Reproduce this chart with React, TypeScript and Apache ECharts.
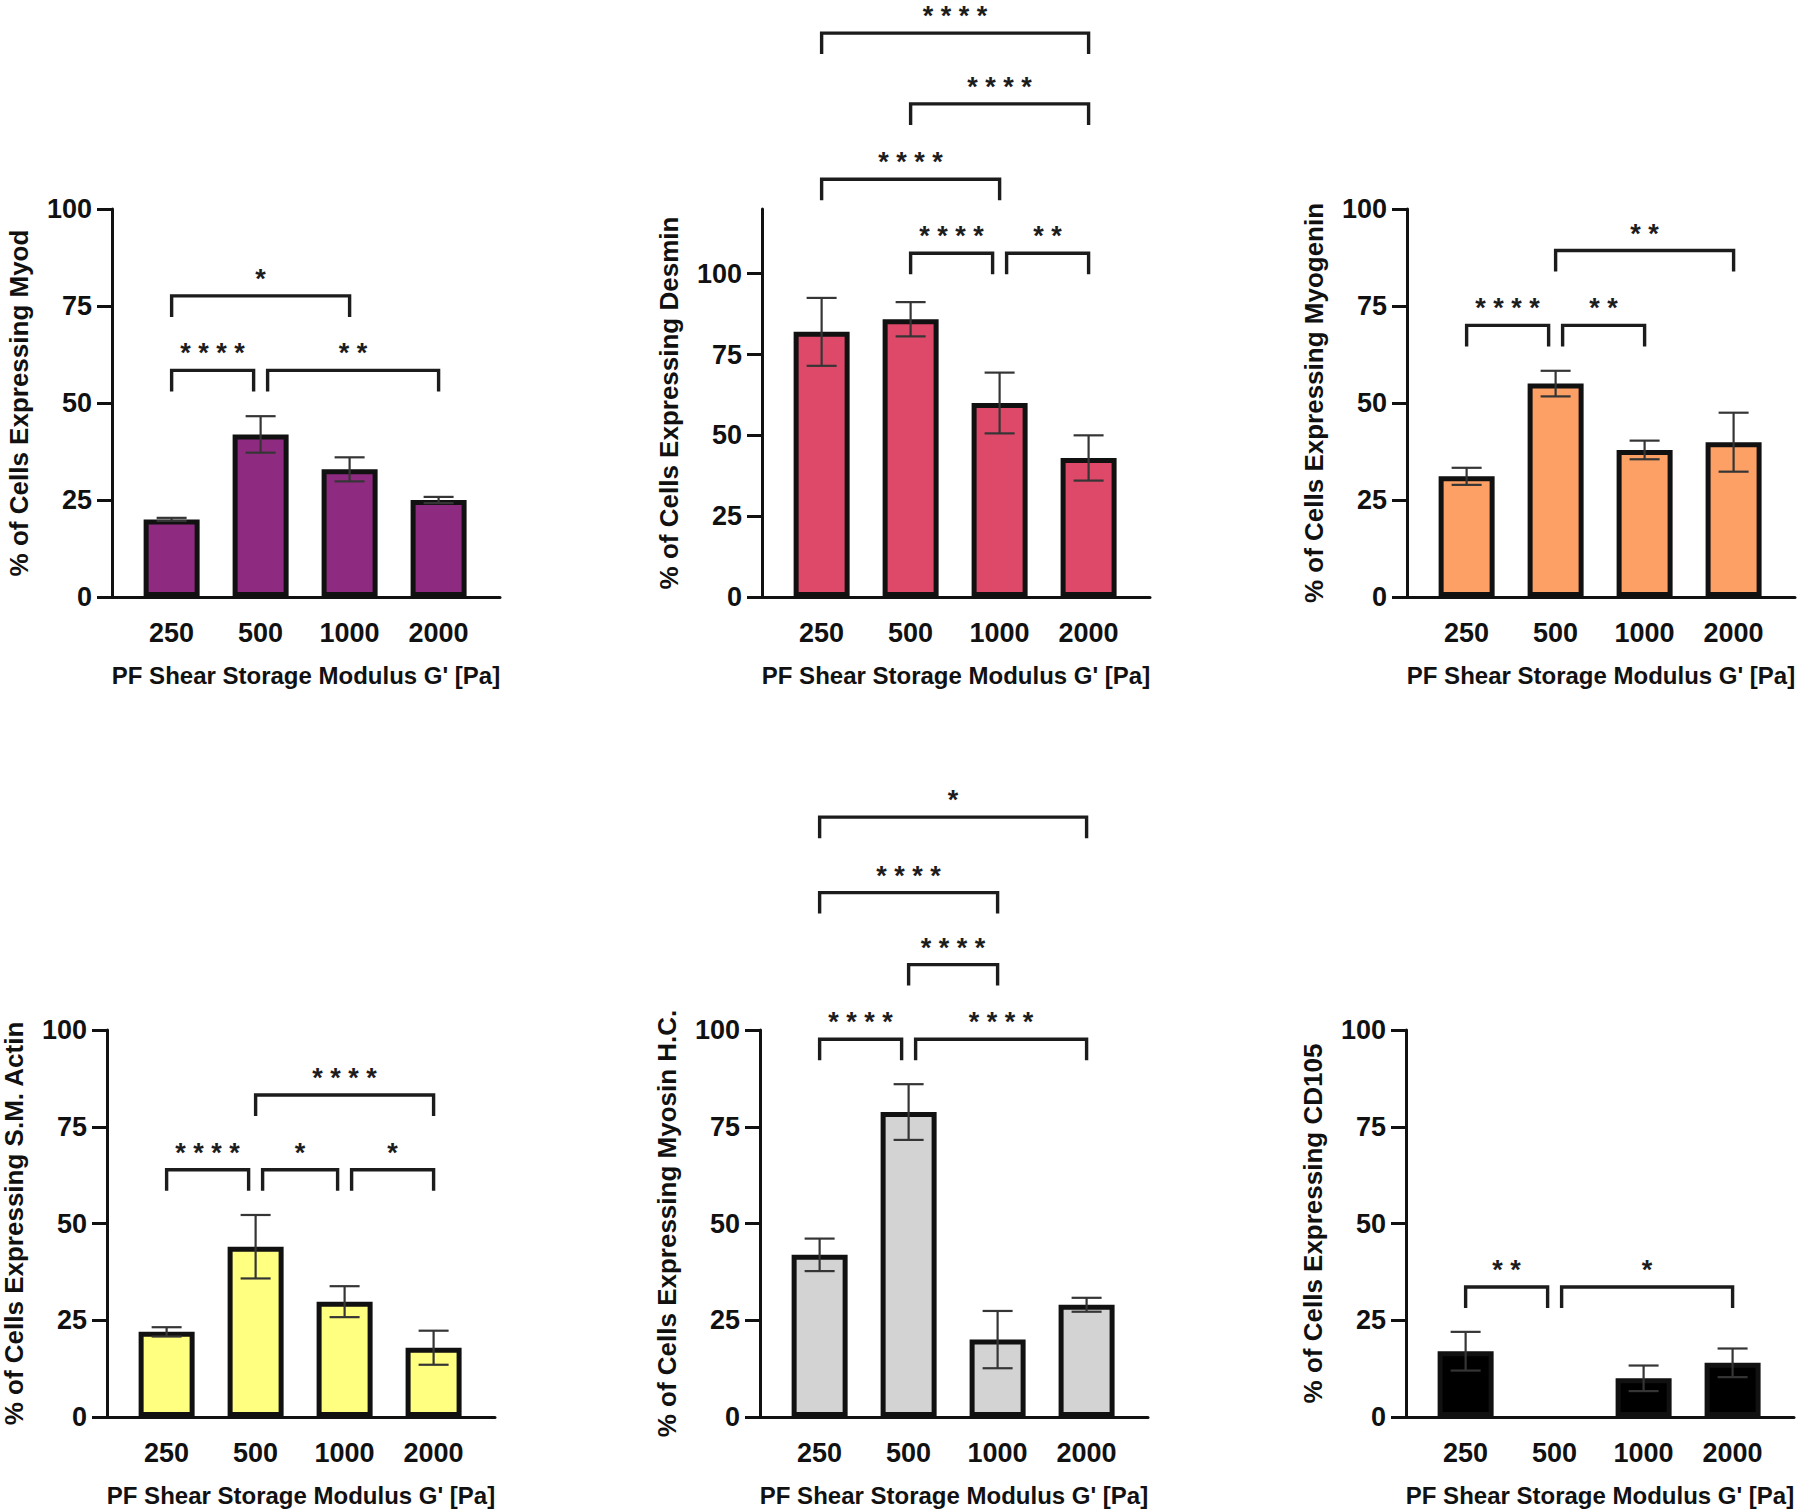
import React, { useEffect, useRef } from "react";
import * as echarts from "echarts";

// ---------- data ----------
const categories = ["250", "500", "1000", "2000"];
const xTitle = "PF Shear Storage Modulus G' [Pa]";

const myodMean = [20, 41.9, 32.9, 25];
const myodErr = [0.4, 4.7, 3.1, 0.8];
const myodBrackets: [number, number, number, string][] = [
  [0, 2, 77.6, "*"],
  [0, 1, 58.4, "****"],
  [1, 3, 58.4, "**"],
];

const desminMean = [82, 85.9, 60, 43];
const desminErr = [10.5, 5.3, 9.4, 7];
const desminBrackets: [number, number, number, string][] = [
  [0, 3, 174.4, "****"],
  [1, 3, 152.5, "****"],
  [0, 2, 129.2, "****"],
  [1, 2, 106.3, "****"],
  [2, 3, 106.3, "**"],
];

const myogeninMean = [31.1, 55, 37.9, 39.9];
const myogeninErr = [2.2, 3.3, 2.4, 7.6];
const myogeninBrackets: [number, number, number, string][] = [
  [1, 3, 89.3, "**"],
  [0, 1, 70, "****"],
  [1, 2, 70, "**"],
];

const smActinMean = [22, 44, 29.8, 17.9];
const smActinErr = [1.2, 8.2, 4, 4.4];
const smActinBrackets: [number, number, number, string][] = [
  [1, 3, 83.2, "****"],
  [0, 1, 63.9, "****"],
  [1, 2, 63.9, "*"],
  [2, 3, 63.9, "*"],
];

const myosinMean = [41.9, 78.8, 20, 29];
const myosinErr = [4.2, 7.2, 7.4, 1.8];
const myosinBrackets: [number, number, number, string][] = [
  [0, 3, 155, "*"],
  [0, 2, 135.5, "****"],
  [1, 2, 116.9, "****"],
  [0, 1, 97.6, "****"],
  [1, 3, 97.6, "****"],
];

const cd105Mean: (number | null)[] = [17, null, 10, 14];
const cd105Err = [5, 0, 3.3, 3.7];
const cd105Brackets: [number, number, number, string][] = [
  [0, 1, 33.6, "**"],
  [1, 3, 33.6, "*"],
];

const yTickValues = [0, 25, 50, 75, 100];

// ---------- panels ----------
const panels = [
  { title: "% of Cells Expressing Myod", mean: myodMean, err: myodErr, brackets: myodBrackets, color: "#8E2A80", max: 100 },
  { title: "% of Cells Expressing Desmin", mean: desminMean, err: desminErr, brackets: desminBrackets, color: "#DE4969", max: 120 },
  { title: "% of Cells Expressing Myogenin", mean: myogeninMean, err: myogeninErr, brackets: myogeninBrackets, color: "#FCA066", max: 100 },
  { title: "% of Cells Expressing S.M. Actin", mean: smActinMean, err: smActinErr, brackets: smActinBrackets, color: "#FFFF80", max: 100 },
  { title: "% of Cells Expressing Myosin H.C.", mean: myosinMean, err: myosinErr, brackets: myosinBrackets, color: "#D3D3D3", max: 100 },
  { title: "% of Cells Expressing CD105", mean: cd105Mean, err: cd105Err, brackets: cd105Brackets, color: "#000000", max: 100 },
];

// layout (pixels)
const layout = [
  { left: 112, top: 209, height: 388 },
  { left: 762, top: 209, height: 388 },
  { left: 1407, top: 209, height: 388 },
  { left: 107, top: 1030, height: 387 },
  { left: 760, top: 1030, height: 387 },
  { left: 1406, top: 1030, height: 387 },
];

const FONT = '"Liberation Sans", Arial, Helvetica, sans-serif';
const INK = "#111";

function buildOption() {
  const grid: any[] = [];
  const xAxis: any[] = [];
  const yAxis: any[] = [];
  const series: any[] = [];

  panels.forEach((p, i) => {
    const L = layout[i];
    grid.push({ left: L.left, top: L.top, width: 388, height: L.height, containLabel: false });
    xAxis.push({
      type: "value",
      gridIndex: i,
      min: -0.67,
      max: 3.69,
      axisLine: { show: true, onZero: false, lineStyle: { color: INK, width: 3 } },
      axisTick: { show: false },
      splitLine: { show: false },
      axisLabel: {
        customValues: [0, 1, 2, 3],
        formatter: (v: number) => categories[Math.round(v)] ?? "",
        fontSize: 27,
        fontWeight: "bold",
        fontFamily: FONT,
        color: INK,
        margin: 22,
      },
      name: xTitle,
      nameLocation: "middle",
      nameGap: 66,
      nameTextStyle: { fontSize: 24, fontWeight: "bold", fontFamily: FONT, color: INK },
    });
    yAxis.push({
      type: "value",
      gridIndex: i,
      min: 0,
      max: p.max,
      interval: 25,
      axisLine: { show: true, onZero: false, lineStyle: { color: INK, width: 3 } },
      axisTick: { show: true, length: 15, customValues: yTickValues, lineStyle: { color: INK, width: 3 } },
      splitLine: { show: false },
      axisLabel: {
        customValues: yTickValues,
        fontSize: 27,
        fontWeight: "bold",
        fontFamily: FONT,
        color: INK,
        margin: 20,
      },
      name: p.title,
      nameLocation: "middle",
      nameGap: 80,
      nameTextStyle: { fontSize: 26, fontWeight: "bold", fontFamily: FONT, color: INK },
    });

    series.push({
      type: "bar",
      xAxisIndex: i,
      yAxisIndex: i,
      barWidth: 56,
      data: p.mean.map((m, j) => [j, m == null ? "-" : m]),
      itemStyle: { color: p.color, borderColor: INK, borderWidth: 5 },
      silent: true,
      z: 2,
    });

    const errData = p.mean
      .map((m, j) => (m == null ? null : [j, m, p.err[j]]))
      .filter((d) => d !== null);
    series.push({
      type: "custom",
      xAxisIndex: i,
      yAxisIndex: i,
      clip: false,
      silent: true,
      z: 3,
      encode: { x: 0, y: 1 },
      data: errData,
      renderItem: (params: any, api: any) => {
        const x = api.value(0);
        const m = api.value(1);
        const e = api.value(2);
        const top = api.coord([x, m + e]);
        const bot = api.coord([x, m - e]);
        const cx = top[0];
        const hw = 15;
        const st = { stroke: "#353535", lineWidth: 2.2 };
        return {
          type: "group",
          children: [
            { type: "line", shape: { x1: cx, y1: top[1], x2: cx, y2: bot[1] }, style: st },
            { type: "line", shape: { x1: cx - hw, y1: top[1], x2: cx + hw, y2: top[1] }, style: st },
            { type: "line", shape: { x1: cx - hw, y1: bot[1], x2: cx + hw, y2: bot[1] }, style: st },
          ],
        };
      },
    });

    const br = p.brackets;
    series.push({
      type: "custom",
      xAxisIndex: i,
      yAxisIndex: i,
      clip: false,
      silent: true,
      z: 4,
      encode: { x: [0, 1], y: 2 },
      data: br.map((b) => [b[0], b[1], b[2]]),
      renderItem: (params: any, api: any) => {
        const b = br[params.dataIndex];
        const [x1, x2, y, label] = b;
        const shrinkL = br.some((o) => o !== b && o[2] === y && o[1] === x1) ? 7 : 0;
        const shrinkR = br.some((o) => o !== b && o[2] === y && o[0] === x2) ? 7 : 0;
        const p1 = api.coord([x1, y]);
        const p2 = api.coord([x2, y]);
        const xl = p1[0] + shrinkL;
        const xr = p2[0] - shrinkR;
        const yy = p1[1];
        const leg = 21;
        return {
          type: "group",
          children: [
            {
              type: "polyline",
              shape: { points: [[xl, yy + leg], [xl, yy], [xr, yy], [xr, yy + leg]] },
              style: { stroke: "#1c1c1c", lineWidth: 3.4, fill: null, lineJoin: "miter" },
            },
            {
              type: "text",
              style: {
                text: label.split("").join(" "),
                x: (xl + xr) / 2,
                y: yy - 17,
                align: "center",
                verticalAlign: "middle",
                fontSize: 27,
                fontWeight: "bold",
                fontFamily: FONT,
                fill: "#1c1c1c",
              },
            },
          ],
        };
      },
    });
  });

  return {
    animation: false,
    backgroundColor: "#ffffff",
    textStyle: { fontFamily: FONT },
    grid,
    xAxis,
    yAxis,
    series,
  };
}

export default function App() {
  const ref = useRef<HTMLDivElement>(null);
  useEffect(() => {
    if (!ref.current) return;
    const chart = echarts.init(ref.current, undefined, { renderer: "svg" });
    chart.setOption(buildOption() as any);
    return () => chart.dispose();
  }, []);
  return (
    <div
      ref={ref}
      style={{ position: "absolute", left: 0, top: 0, width: 1800, height: 1511, background: "#fff" }}
    />
  );
}
